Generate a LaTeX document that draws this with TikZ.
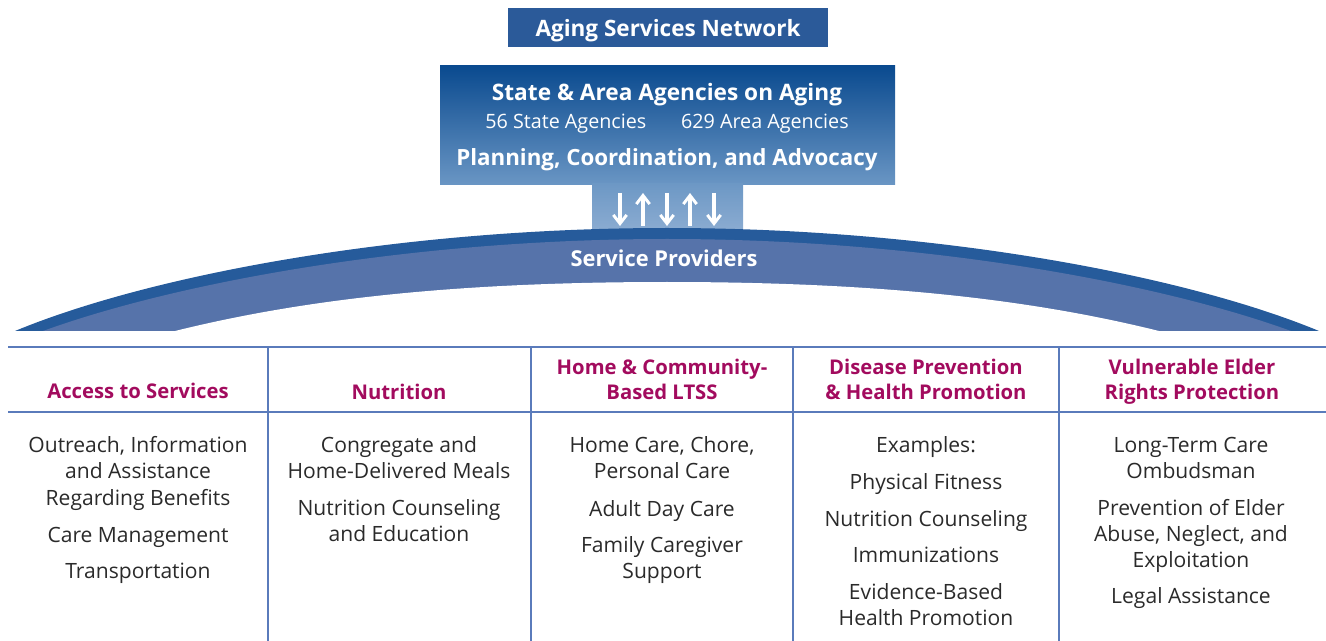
\documentclass[tikz,border=0pt]{standalone}
\usepackage{fontspec}
\setmainfont{Open Sans}
\usetikzlibrary{arrows.meta}
\definecolor{titleblue}{HTML}{2B5A99}
\definecolor{boxtop}{HTML}{0A4A8F}
\definecolor{boxbot}{HTML}{6A96C4}
\definecolor{stemtop}{HTML}{6D98C5}
\definecolor{stembot}{HTML}{8DADD2}
\definecolor{archdark}{HTML}{265B9B}
\definecolor{archlight}{HTML}{5673AA}
\definecolor{rule}{HTML}{5A7BBB}
\definecolor{headc}{HTML}{A20B5E}
\definecolor{bodyc}{HTML}{2A2A2A}
\begin{document}
\begin{tikzpicture}[x=0.75pt,y=-0.75pt,
  every node/.style={inner sep=0pt,outer sep=0pt,yshift=-2.25pt},
  body/.style={font=\fontsize{15.8pt}{19.5pt}\selectfont,text=bodyc,text height=11pt,text depth=3pt},
  head/.style={font=\fontsize{15.2pt}{18pt}\selectfont\bfseries,text=headc,text height=10.5pt,text depth=3pt},
  wbold/.style={font=\fontsize{#1}{#1}\selectfont\bfseries,text=white,text height=0.72*#1,text depth=0.2*#1},
  tline/.style={draw=rule,line width=1.5pt},
  updown/.style={draw=white,line width=2.3pt,-{Straight Barb[length=6.5pt,width=10pt,line width=2.2pt]}}
]
\useasboundingbox (0,0) rectangle (1326,641);

% title
\fill[titleblue] (508,8) rectangle (828,47);
\node[wbold=16.9pt] (title) at (668,28) {Aging Services Network};

% agencies box and stem
\shade[top color=boxtop,bottom color=boxbot] (440,66) rectangle (895,185);
\shade[top color=stemtop,bottom color=stembot] (592,184) rectangle (743,234);
\node[wbold=17pt] (agency) at (667,92) {State \& Area Agencies on Aging};
\node[font=\fontsize{14.8pt}{16pt}\selectfont,text=white,text height=10.5pt,text depth=3pt] (counts) at (667,121) {56 State Agencies\hspace{26pt}629 Area Agencies};
\node[wbold=16.75pt] (planning) at (667,157) {Planning, Coordination, and Advocacy};

% arrows
\coordinate (a1t) at (620,190); \coordinate (a1b) at (620,223);
\coordinate (a2t) at (643,190); \coordinate (a2b) at (643,223);
\coordinate (a3t) at (667,190); \coordinate (a3b) at (667,223);
\coordinate (a4t) at (690,190); \coordinate (a4b) at (690,223);
\coordinate (a5t) at (714,190); \coordinate (a5b) at (714,223);
\draw[updown] (a1t) -- (a1b);
\draw[updown] (a2b) -- (a2t);
\draw[updown] (a3t) -- (a3b);
\draw[updown] (a4b) -- (a4t);
\draw[updown] (a5t) -- (a5b);

% arch
\fill[archdark] (15,331) .. controls (150,275) and (400,228) .. (667,228)
  .. controls (934,228) and (1184,275) .. (1319,331) -- cycle;
\fill[archlight] (43,331) .. controls (175,283) and (410,239) .. (667,239)
  .. controls (924,239) and (1159,283) .. (1291,331) -- cycle;
\fill[white] (175,331) .. controls (300,300) and (450,282) .. (667,282)
  .. controls (884,282) and (1034,300) .. (1159,331) -- cycle;
\fill[white] (0,331) rectangle (1326,334);
\node[wbold=16.4pt] (providers) at (664,258) {Service Providers};

% table
\draw[tline] (8,347) -- (1326,347);
\draw[tline] (8,412) -- (1326,412);
\foreach \x in {268,531,793,1059} \draw[tline] (\x,347) -- (\x,641);

% headers
\node[head] (h1) at (138,390) {Access to Services};
\node[head] (h2) at (399,391) {Nutrition};
\node[head] (h3a) at (662,366) {Home \& Community-};
\node[head] (h3b) at (662,391) {Based LTSS};
\node[head] (h4a) at (926,366) {Disease Prevention};
\node[head] (h4b) at (926,391) {\& Health Promotion};
\node[head] (h5a) at (1192,366) {Vulnerable Elder};
\node[head] (h5b) at (1192,391) {Rights Protection};

% body
\foreach \t/\y [count=\i] in {{Outreach, Information}/444,{and Assistance}/470,{Regarding Benefits}/497,{Care Management}/534,{Transportation}/570}
  \node[body] (c1-\i) at (138,\y) {\t};
\foreach \t/\y [count=\i] in {{Congregate and}/444,{Home-Delivered Meals}/470,{Nutrition Counseling}/507,{and Education}/533}
  \node[body] (c2-\i) at (399,\y) {\t};
\foreach \t/\y [count=\i] in {{Home Care, Chore,}/444,{Personal Care}/470,{Adult Day Care}/508,{Family Caregiver}/544,{Support}/570}
  \node[body] (c3-\i) at (662,\y) {\t};
\foreach \t/\y [count=\i] in {{Examples:}/444,{Physical Fitness}/481,{Nutrition Counseling}/518,{Immunizations}/554,{Evidence-Based}/591,{Health Promotion}/617}
  \node[body] (c4-\i) at (926,\y) {\t};
\foreach \t/\y [count=\i] in {{Long-Term Care}/444,{Ombudsman}/470,{Prevention of Elder}/507,{Abuse, Neglect, and}/533,{Exploitation}/559,{Legal Assistance}/595}
  \node[body] (c5-\i) at (1191,\y) {\t};
\end{tikzpicture}
\end{document}
